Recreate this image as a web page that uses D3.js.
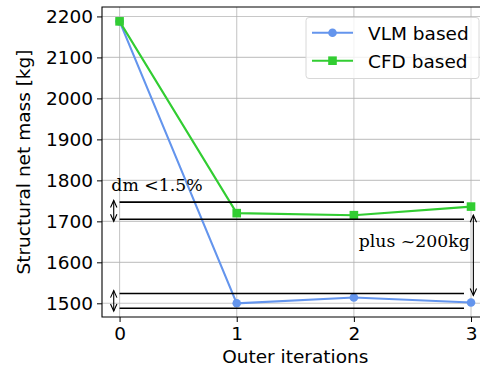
<!DOCTYPE html>
<html>
<head>
<meta charset="utf-8">
<script src="https://cdn.jsdelivr.net/npm/d3@7/dist/d3.min.js"></script>
<style>
  html, body { margin: 0; padding: 0; background: #fff; }
  svg { display: block; }
</style>
</head>
<body>
<svg id="chart" width="480" height="372"></svg>
<script>
// Outer iteration index and the structural net mass for each approach
const iterations = [0, 1, 2, 3];
const vlmMass = [2188, 1500, 1514, 1502];
const cfdMass = [2188, 1720, 1715, 1736];
const yTicks = [1500, 1600, 1700, 1800, 1900, 2000, 2100, 2200];
const xTicks = [0, 1, 2, 3];

// Tolerance bands (horizontal reference lines) and the double arrows between them
const bandLines = [1747, 1705, 1524, 1488];
const bandSpan = [0, 2.94];
const bandArrows = [
  { x: -0.05, y0: 1751, y1: 1700 },
  { x: -0.05, y0: 1531, y1: 1481 },
  { x: 3.02, y0: 1715, y1: 1519 }
];
const notes = [
  { x: -0.07, y: 1773, text: "dm <1.5%", anchor: "start" },
  { x: 2.99, y: 1637, text: "plus ~200kg", anchor: "end" }
];

const svg = d3.select("#chart");
const mLeft = 102, mTop = 7, mBottom = 317, plotRight = 488.6;

const x = d3.scaleLinear().domain([-0.15, 3.15]).range([mLeft, plotRight]);
const y = d3.scaleLinear().domain([1466.6, 2223]).range([mBottom, mTop]);

const font = "'DejaVu Sans', sans-serif";
const serif = "'DejaVu Serif', serif";

svg.append("defs").append("clipPath").attr("id", "plotclip")
  .append("rect").attr("x", mLeft).attr("y", mTop)
  .attr("width", plotRight - mLeft).attr("height", mBottom - mTop);

// Grid
const grid = svg.append("g").attr("clip-path", "url(#plotclip)");
grid.selectAll(".gy").data(yTicks).join("line")
  .attr("x1", mLeft).attr("x2", plotRight)
  .attr("y1", d => y(d)).attr("y2", d => y(d))
  .attr("stroke", "#b0b0b0").attr("stroke-opacity", 0.7).attr("stroke-width", 1.1);
grid.selectAll(".gx").data(xTicks).join("line")
  .attr("x1", d => x(d)).attr("x2", d => x(d))
  .attr("y1", mTop).attr("y2", mBottom)
  .attr("stroke", "#b0b0b0").attr("stroke-opacity", 0.7).attr("stroke-width", 1.1);

// Axes
const yAxis = d3.axisLeft(y).tickValues(yTicks).tickSize(5).tickPadding(4).tickFormat(d3.format("d"));
const xAxis = d3.axisBottom(x).tickValues(xTicks).tickSize(5).tickPadding(5).tickFormat(d3.format("d"));

const gy = svg.append("g").attr("transform", `translate(${mLeft},0)`).call(yAxis);
const gx = svg.append("g").attr("transform", `translate(0,${mBottom})`).call(xAxis);
[gx, gy].forEach(g => {
  g.select(".domain").remove();
  g.selectAll("line").attr("stroke", "#000").attr("stroke-width", 1);
  g.selectAll("text").attr("fill", "#000").style("font-family", font).style("font-size", "18.5px");
});

// Spines (left, top, bottom)
svg.append("path")
  .attr("d", `M${plotRight},${mTop}H${mLeft}V${mBottom}H${plotRight}`)
  .attr("fill", "none").attr("stroke", "#000").attr("stroke-width", 1.1);

// Axis labels
svg.append("text")
  .attr("x", (mLeft + plotRight) / 2).attr("y", 363)
  .attr("text-anchor", "middle")
  .style("font-family", font).style("font-size", "18.5px")
  .text("Outer iterations");
svg.append("text")
  .attr("transform", `translate(30,${(mTop + mBottom) / 2}) rotate(-90)`)
  .attr("text-anchor", "middle")
  .style("font-family", font).style("font-size", "18.5px")
  .text("Structural net mass [kg]");

const plot = svg.append("g").attr("clip-path", "url(#plotclip)");

// Data series
const line = d3.line().x((d, i) => x(iterations[i])).y(d => y(d));
const series = [
  { name: "VLM based", values: vlmMass, color: "#6495ed", marker: "circle" },
  { name: "CFD based", values: cfdMass, color: "#32cd32", marker: "square" }
];

series.forEach(s => {
  plot.append("path").datum(s.values)
    .attr("d", line).attr("fill", "none")
    .attr("stroke", s.color).attr("stroke-width", 2.1);
  if (s.marker === "circle") {
    plot.selectAll(null).data(s.values).join("circle")
      .attr("cx", (d, i) => x(iterations[i])).attr("cy", d => y(d))
      .attr("r", 4.3).attr("fill", s.color);
  } else {
    plot.selectAll(null).data(s.values).join("rect")
      .attr("x", (d, i) => x(iterations[i]) - 4.3).attr("y", d => y(d) - 4.3)
      .attr("width", 8.6).attr("height", 8.6).attr("fill", s.color);
  }
});

// Reference lines
plot.selectAll(".band").data(bandLines).join("line")
  .attr("x1", x(bandSpan[0])).attr("x2", x(bandSpan[1]))
  .attr("y1", d => y(d)).attr("y2", d => y(d))
  .attr("stroke", "#000").attr("stroke-width", 1.6);

// Double-headed arrows
function arrowHead(g, px, py, dir) {
  // dir = -1 points up, +1 points down
  const len = 7, half = 3.2;
  g.append("path")
    .attr("d", `M${px - half},${py - dir * len} L${px},${py} L${px + half},${py - dir * len}`)
    .attr("fill", "none").attr("stroke", "#000").attr("stroke-width", 1.1);
}
bandArrows.forEach(a => {
  const px = x(a.x), p0 = y(a.y0), p1 = y(a.y1);
  plot.append("line").attr("x1", px).attr("x2", px).attr("y1", p0).attr("y2", p1)
    .attr("stroke", "#000").attr("stroke-width", 1.1);
  arrowHead(plot, px, p0, -1);
  arrowHead(plot, px, p1, 1);
});

// Text notes
svg.selectAll(".note").data(notes).join("text")
  .attr("x", d => x(d.x)).attr("y", d => y(d.y))
  .attr("text-anchor", d => d.anchor)
  .style("font-family", serif).style("font-size", "17.3px")
  .attr("fill", "#000")
  .text(d => d.text);

// Legend
const lg = svg.append("g");
lg.append("rect")
  .attr("x", 306).attr("y", 17.5).attr("width", 173).attr("height", 61)
  .attr("rx", 3).attr("fill", "#fff").attr("fill-opacity", 0.8)
  .attr("stroke", "#d8d8d8").attr("stroke-width", 1);
series.forEach((s, i) => {
  const cy = 32.7 + i * 28;
  lg.append("line").attr("x1", 312).attr("x2", 353).attr("y1", cy).attr("y2", cy)
    .attr("stroke", s.color).attr("stroke-width", 2.1);
  if (s.marker === "circle") {
    lg.append("circle").attr("cx", 332.5).attr("cy", cy).attr("r", 4.3).attr("fill", s.color);
  } else {
    lg.append("rect").attr("x", 332.5 - 4.3).attr("y", cy - 4.3)
      .attr("width", 8.6).attr("height", 8.6).attr("fill", s.color);
  }
  lg.append("text").attr("x", 368).attr("y", cy + 6.8)
    .style("font-family", font).style("font-size", "18.5px")
    .text(s.name);
});
</script>
</body>
</html>
